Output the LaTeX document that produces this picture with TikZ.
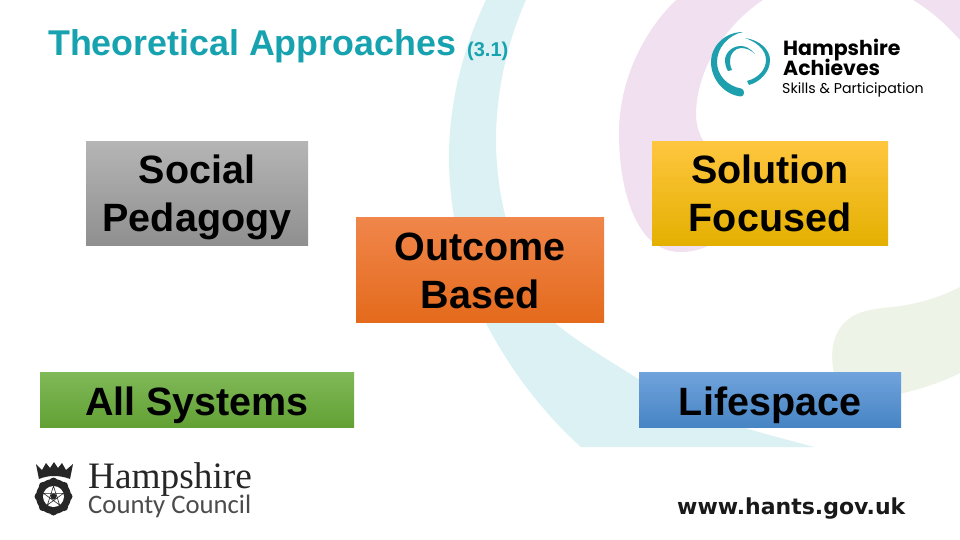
\documentclass[tikz,border=0pt]{standalone}
\usepackage{fontspec}
\setmainfont{Liberation Sans}
\newfontfamily\serifname{Liberation Serif}
\newfontfamily\lightname{Carlito}
\newfontfamily\urlname{DejaVu Sans}
\newfontfamily\roundname{Poppins}
\usetikzlibrary{positioning,calc}

\definecolor{titleteal}{HTML}{17A2AF}
\definecolor{teallogo}{HTML}{1E9FAE}
\definecolor{swirlcyan}{HTML}{DCF1F4}
\definecolor{swirlpink}{HTML}{F1E0EF}
\definecolor{swirlgreen}{HTML}{EDF3E6}
\definecolor{crestdark}{HTML}{262626}
\definecolor{boxgreyA}{HTML}{B5B5B5}
\definecolor{boxgreyB}{HTML}{A6A6A6}
\definecolor{boxgreyC}{HTML}{8F8F8F}
\definecolor{boxorangeA}{HTML}{F0864B}
\definecolor{boxorangeB}{HTML}{F4782A}
\definecolor{boxorangeC}{HTML}{E46A1C}
\definecolor{boxyellowA}{HTML}{FFC63F}
\definecolor{boxyellowB}{HTML}{FFC400}
\definecolor{boxyellowC}{HTML}{E3B000}
\definecolor{boxgreenA}{HTML}{7FB958}
\definecolor{boxgreenB}{HTML}{6FB13C}
\definecolor{boxgreenC}{HTML}{62A033}
\definecolor{boxblueA}{HTML}{70A3DC}
\definecolor{boxblueB}{HTML}{5A96D8}
\definecolor{boxblueC}{HTML}{4684C4}
\newcommand{\boxstrut}{\rule[-9pt]{0pt}{46pt}}
\newcommand{\onestrut}{\rule[-9pt]{0pt}{48pt}}

\begin{document}
\begin{tikzpicture}[
    x=1pt, y=-1pt,
    box/.style={rectangle, align=center, inner sep=0pt, text=black,
                font=\fontsize{39.5}{48}\selectfont\bfseries},
    greybox/.style={box, top color=boxgreyA, middle color=boxgreyB, bottom color=boxgreyC},
    orangebox/.style={box, top color=boxorangeA, middle color=boxorangeB, bottom color=boxorangeC},
    yellowbox/.style={box, top color=boxyellowA, middle color=boxyellowB, bottom color=boxyellowC},
    greenbox/.style={box, top color=boxgreenA, middle color=boxgreenB, bottom color=boxgreenC},
    bluebox/.style={box, top color=boxblueA, middle color=boxblueB, bottom color=boxblueC},
    title/.style={font=\fontsize{35.8}{40}\selectfont\bfseries, text=titleteal, anchor=base west, inner sep=0pt},
    logotext/.style={anchor=base west, inner sep=0pt, text=black}
]

\useasboundingbox (0,0) rectangle (960,540);
\fill[white] (0,0) rectangle (960,540);

% Background swirls
\fill[swirlcyan] (486,0) .. controls (462,50) and (449,105) .. (449,157)
    .. controls (449,225) and (470,290) .. (486,323)
    .. controls (510,370) and (545,415) .. (581,447)
    -- (814,447) .. controls (760,432) and (700,420) .. (640,380)
    .. controls (600,355) and (575,340) .. (555,323)
    .. controls (525,290) and (496,215) .. (496,140)
    .. controls (496,90) and (508,40) .. (526,0) -- cycle;
\fill[swirlpink] (676,0) .. controls (640,35) and (619,85) .. (619,133)
    .. controls (619,180) and (630,215) .. (644,233)
    .. controls (655,247) and (668,252) .. (680,252)
    .. controls (690,252) and (700,250) .. (710,245)
    -- (710,150) .. controls (700,140) and (696,125) .. (696,115)
    .. controls (696,70) and (725,25) .. (763,0) -- cycle;
\fill[swirlpink] (913,0) .. controls (930,10) and (947,25) .. (960,40) -- (960,0) -- cycle;
\fill[swirlgreen] (960,287) .. controls (935,300) and (910,305) .. (893,307)
    .. controls (870,309) and (855,312) .. (845,322)
    .. controls (832,335) and (830,355) .. (834,372)
    -- (860,400) .. controls (890,398) and (930,388) .. (960,373) -- cycle;

% Title
\node[title] (heading) at (48,56) {Theoretical Approaches};
\node[title, font=\fontsize{20}{24}\selectfont\bfseries] (section) at (467,57) {(3.1)};

% Boxes
\node[greybox, minimum width=222pt, minimum height=104.5pt] (social) at (197,193.5) {Social\boxstrut\\Pedagogy\boxstrut};
\node[orangebox, minimum width=248pt, minimum height=105.5pt] (outcome) at (480,270) {Outcome\boxstrut\\Based\boxstrut};
\node[yellowbox, minimum width=236pt, minimum height=104.5pt] (solution) at (770,193.5) {Solution\boxstrut\\Focused\boxstrut};
\node[greenbox, minimum width=314pt, minimum height=55.5pt] (systems) at (197,400) {All Systems\onestrut};
\node[bluebox, minimum width=262pt, minimum height=55.5pt] (lifespace) at (770,400) {Lifespace\onestrut};

% Hampshire Achieves logo
\fill[teallogo] (743,32) .. controls (725,32) and (711,46) .. (711,62)
    .. controls (711,80) and (725,95) .. (741,96.5)
    .. controls (745,96.5) and (745,89) .. (741,88.5)
    .. controls (727,86) and (717,75) .. (717,62)
    .. controls (717,48) and (728,35) .. (743,32) -- cycle;
\fill[teallogo] (745,38) .. controls (760,40) and (770,50) .. (770,60)
    .. controls (770,72) and (760,82) .. (749,85) -- (747,81)
    .. controls (758,78) and (766,70) .. (766,60)
    .. controls (766,50) and (757,42) .. (745,38) -- cycle;
\fill[teallogo] (755,54) .. controls (750,48) and (745,46) .. (741,46)
    .. controls (731,46) and (725,54) .. (725,60)
    .. controls (725,64) and (726,68) .. (728,71) -- (732,70)
    .. controls (730,66) and (730,63) .. (730,60)
    .. controls (730,54) and (735,48) .. (741,48)
    .. controls (746,48) and (751,50) .. (755,54) -- cycle;
\node[logotext, font=\roundname\fontsize{20.5}{24}\selectfont\bfseries] (achieveA) at (783,56) {Hampshire};
\node[logotext, font=\roundname\fontsize{20.5}{24}\selectfont\bfseries] (achieveB) at (783,76) {Achieves};
\node[logotext, font=\roundname\fontsize{14.2}{18}\selectfont] (achieveC) at (782,94) {Skills \& Participation};

% County council logo
\fill[crestdark] (36,464) -- (42,470) -- (46,463) -- (50,468) -- (54,462) -- (58,468) -- (62,463) -- (66,470) -- (73,464)
    -- (70,479) .. controls (60,475) and (48,475) .. (39,479) -- cycle;
\fill[crestdark] (53.5,496.5) circle (17.5);
\foreach \ang in {0,45,...,315}
    \fill[crestdark] (53.5,496.5) ++(\ang:15) circle (4);
\fill[white] (53.5,496.5) circle (10.5);
\fill[crestdark] (53.5,496.5) circle (3);
\draw[crestdark, line width=0.6pt] (53.5,486) -- (59.6,505) -- (43.5,493.3) -- (63.5,493.3) -- (47.4,505) -- cycle;
\node[logotext, font=\serifname\fontsize{37.3}{38}\selectfont, text=black!85] (hampshire) at (88,488) {Hampshire};
\node[logotext, font=\lightname\fontsize{26.7}{28}\selectfont, text=black!70] (county) at (88,513) {County Council};

% Web address
\node[logotext, font=\urlname\fontsize{22}{26}\selectfont\bfseries, text=black!90] (website) at (677,514) {www.hants.gov.uk};

\end{tikzpicture}
\end{document}
